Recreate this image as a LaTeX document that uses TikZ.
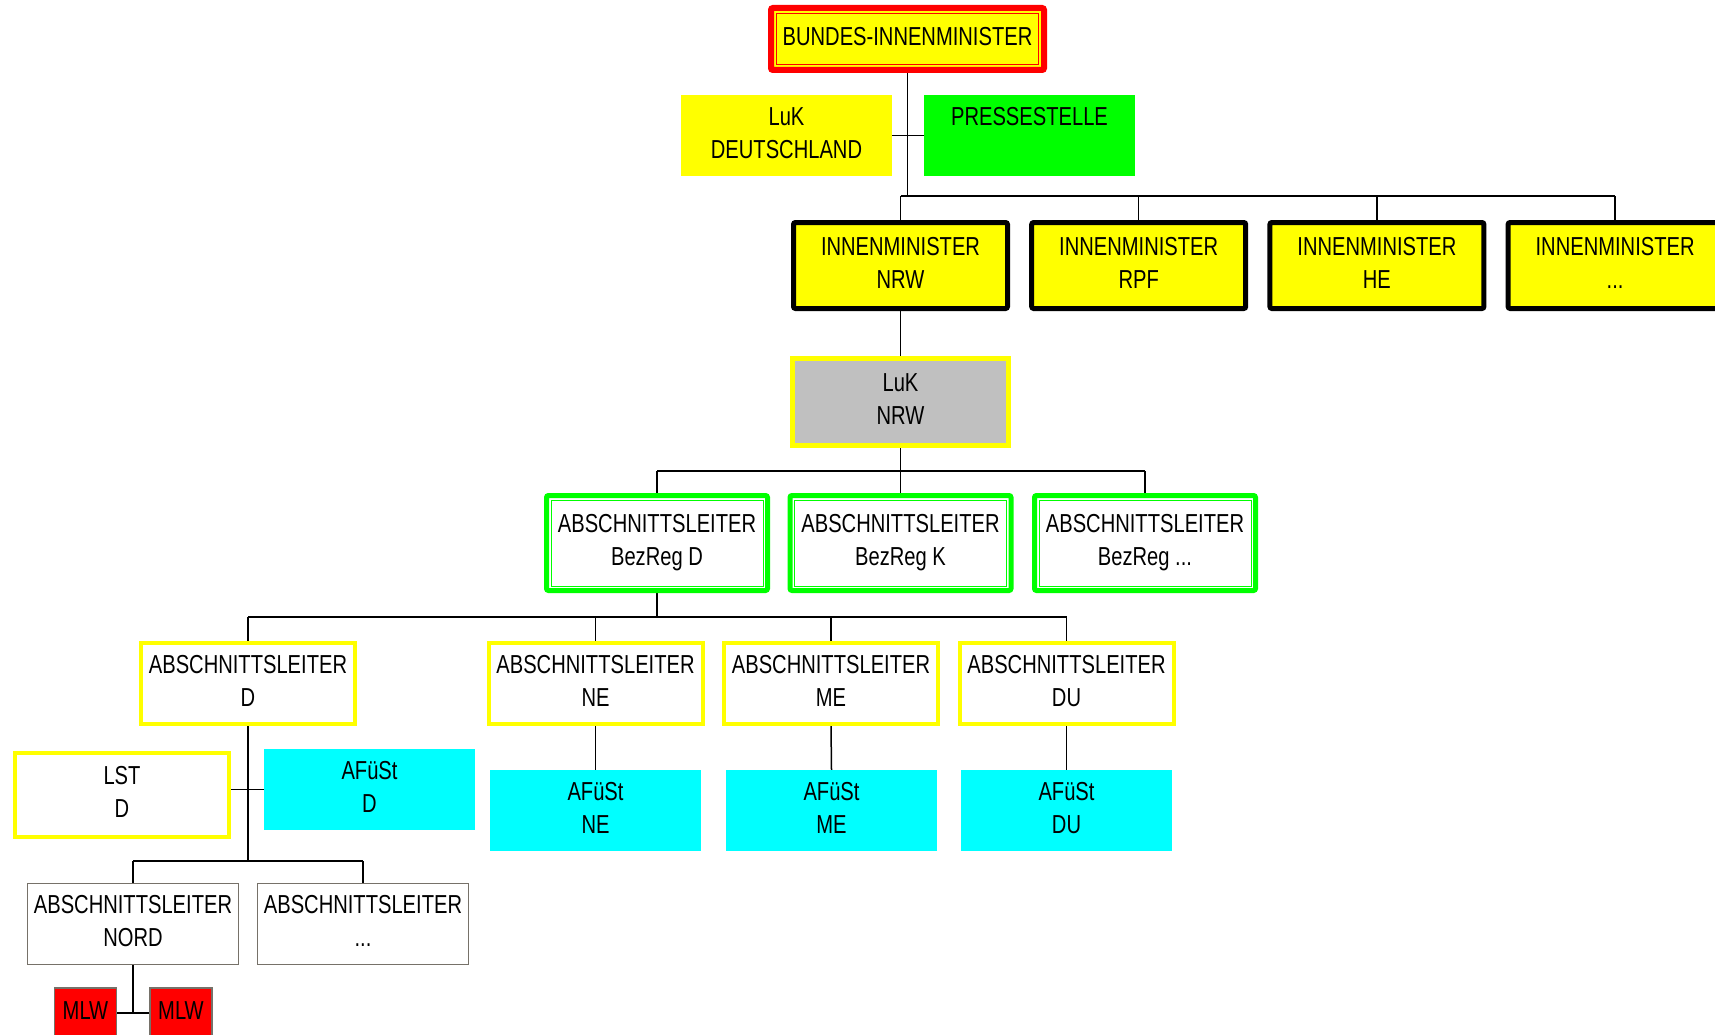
\documentclass[tikz,border=0pt]{standalone}
\usepackage{fontspec}
\setmainfont[FakeStretch=0.775]{Liberation Sans}
\pgfdeclarelayer{background}
\pgfsetlayers{background,main}
\definecolor{cyellow}{RGB}{255,255,0}
\definecolor{cgreen}{RGB}{0,255,0}
\definecolor{ccyan}{RGB}{0,255,255}
\definecolor{cred}{RGB}{255,0,0}
\definecolor{cgray}{RGB}{192,192,192}
\definecolor{cframe}{RGB}{118,113,105}
\tikzset{
  x=1pt,y=-1pt,
  base/.style={font=\fontsize{26}{33}\selectfont, align=center, inner sep=0pt, text=black, text depth=5.5pt},
  bundbox/.style={base, fill=cyellow, draw=cred, line width=6pt, rounded corners=2pt,
     minimum width=273pt, minimum height=62pt,
     path picture={\draw[cred,line width=1pt,sharp corners]
       ([shift={(5.4pt,-5.4pt)}]path picture bounding box.north west) rectangle
       ([shift={(-5.4pt,5.4pt)}]path picture bounding box.south east);}},
  plainfill/.style={base, minimum width=211pt, minimum height=81pt},
  imbox/.style={base, fill=cyellow, draw=black, line width=5pt, rounded corners=2pt,
     minimum width=214pt, minimum height=86pt},
  luknbox/.style={base, fill=cgray, draw=cyellow, line width=5pt,
     minimum width=216pt, minimum height=87pt},
  bezbox/.style={base, fill=white, draw=cgreen, line width=5pt, rounded corners=2pt,
     minimum width=221pt, minimum height=95pt,
     path picture={\draw[cgreen,line width=1pt,sharp corners]
       ([shift={(4.5pt,-4.5pt)}]path picture bounding box.north west) rectangle
       ([shift={(-4.5pt,4.5pt)}]path picture bounding box.south east);}},
  albox/.style={base, fill=white, draw=cyellow, line width=4pt,
     minimum width=214pt, minimum height=81pt},
  afubox/.style={plainfill, fill=ccyan},
  lstbox/.style={base, fill=white, draw=cyellow, line width=4pt,
     minimum width=214pt, minimum height=84pt},
  greybox/.style={base, fill=white, draw=cframe, line width=1.3pt,
     minimum width=211pt, minimum height=81pt},
  mlwbox/.style={base, fill=cred, draw=cframe, line width=1.2pt,
     minimum width=62pt, minimum height=50pt},
  conn/.style={draw=black, line width=1.5pt}
}
\begin{document}
\begin{tikzpicture}
\useasboundingbox (0,0) rectangle (1715,1035);
\clip (0,0) rectangle (1715,1035);

% top
\node[bundbox] (bund) at (907.5,39) {BUNDES-INNENMINISTER};
\node[plainfill, fill=cyellow] (lukd) at (786.5,135.5) {LuK\\DEUTSCHLAND};
\node[plainfill, fill=cgreen] (presse) at (1029.5,135.5) {PRESSESTELLE\\\phantom{X}};

% Innenminister row
\node[imbox] (imnrw) at (900.5,265.5) {INNENMINISTER\\NRW};
\node[imbox] (imrpf) at (1138.7,265.5) {INNENMINISTER\\RPF};
\node[imbox] (imhe) at (1376.9,265.5) {INNENMINISTER\\HE};
\node[imbox] (imx) at (1615.1,265.5) {INNENMINISTER\\...};

% LuK NRW
\node[luknbox] (lukn) at (900.5,402) {LuK\\NRW};

% BezReg row
\node[bezbox] (bezd) at (657,543) {ABSCHNITTSLEITER\\BezReg D};
\node[bezbox] (bezk) at (900.5,543) {ABSCHNITTSLEITER\\BezReg K};
\node[bezbox] (bezx) at (1145,543) {ABSCHNITTSLEITER\\BezReg ...};

% Abschnittsleiter row
\node[albox] (ald) at (248,683.5) {ABSCHNITTSLEITER\\D};
\node[albox] (alne) at (595.5,683.5) {ABSCHNITTSLEITER\\NE};
\node[albox] (alme) at (831,683.5) {ABSCHNITTSLEITER\\ME};
\node[albox] (aldu) at (1066.5,683.5) {ABSCHNITTSLEITER\\DU};

% AFueSt
\node[lstbox] (lstd) at (122,795) {LST\\D};
\node[afubox] (afud) at (369.5,789.5) {AFüSt\\D};
\node[afubox] (afune) at (595.5,810.5) {AFüSt\\NE};
\node[afubox] (afume) at (831.5,810.5) {AFüSt\\ME};
\node[afubox] (afudu) at (1066.5,810.5) {AFüSt\\DU};

% bottom
\node[greybox] (nord) at (133,924) {ABSCHNITTSLEITER\\NORD};
\node[greybox] (alx) at (363,924) {ABSCHNITTSLEITER\\...};
\node[mlwbox] (mlwa) at (85.5,1013) {MLW};
\node[mlwbox] (mlwb) at (181,1013) {MLW};

% junction coordinates
\coordinate (busA) at (900.5,196);
\coordinate (busB) at (1615.1,196);
\coordinate (busC) at (657,471);
\coordinate (busD) at (1145,471);
\coordinate (busE) at (248,617);
\coordinate (busF) at (1066.5,617);
\coordinate (busG) at (133,861);
\coordinate (busH) at (363,861);
\coordinate (mlwj) at (133,1013);

\begin{pgfonlayer}{background}
\draw[conn] (bund.south) -- (bund.south |- busA);
\draw[conn] (lukd.east) -- (presse.west);
\draw[conn] (busA) -- (busB);
\draw[conn] (imnrw.north) -- (busA);
\draw[conn] (imrpf.north) -- (imrpf.north |- busA);
\draw[conn] (imhe.north) -- (imhe.north |- busA);
\draw[conn] (imx.north) -- (busB);
\draw[conn] (imnrw.south) -- (lukn.north);
\draw[conn] (lukn.south) -- (lukn.south |- busC);
\draw[conn] (busC) -- (busD);
\draw[conn] (bezd.north) -- (busC);
\draw[conn] (bezk.north) -- (bezk.north |- busC);
\draw[conn] (bezx.north) -- (busD);
\draw[conn] (bezd.south) -- (bezd.south |- busE);
\draw[conn] (busE) -- (busF);
\draw[conn] (ald.north) -- (busE);
\draw[conn] (alne.north) -- (alne.north |- busE);
\draw[conn] (alme.north) -- (alme.north |- busE);
\draw[conn] (aldu.north) -- (busF);
\draw[conn] (alne.south) -- (afune.north);
\draw[conn] (alme.south) -- (afume.north);
\draw[conn] (aldu.south) -- (afudu.north);
\draw[conn] (ald.south) -- (ald.south |- busG);
\draw[conn] (lstd.east |- afud.west) -- (afud.west);
\draw[conn] (busG) -- (busH);
\draw[conn] (nord.north) -- (busG);
\draw[conn] (alx.north) -- (busH);
\draw[conn] (nord.south) -- (mlwj);
\draw[conn] (mlwa.east) -- (mlwb.west);
\end{pgfonlayer}
\end{tikzpicture}
\end{document}
